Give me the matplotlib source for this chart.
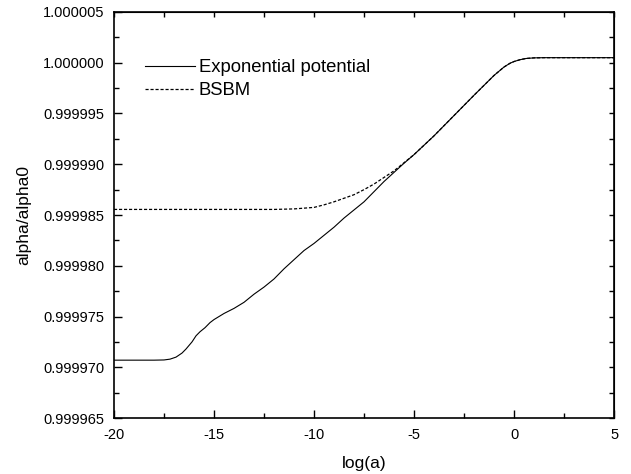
import numpy as np
import matplotlib
matplotlib.use("Agg")
import matplotlib.pyplot as plt
from matplotlib.ticker import MultipleLocator, FormatStrFormatter

plt.rcParams['font.family'] = ['Liberation Sans', 'DejaVu Sans']

# log(a) and (alpha/alpha0 - 1) in units of 1e-6
exp_x = [-20, -18, -17.5, -17.2, -16.9, -16.6, -16.4, -16.1, -15.9, -15.7,
         -15.45, -15.2, -15.0, -14.5, -14.0, -13.5, -13.0, -12.5, -12.0, -11.5,
         -11.0, -10.5, -10.0, -9.5, -9.0, -8.5, -8.0, -7.5, -7.0, -6.5,
         -6.0, -5.5, -5.0, -4.0, -3.0, -2.0, -1.0, -0.5, -0.2, 0.0,
         0.3, 0.6, 1.0, 1.5, 5.0]
exp_off = [-29.3, -29.3, -29.28, -29.2, -29.0, -28.6, -28.2, -27.5, -26.9, -26.5,
           -26.1, -25.6, -25.3, -24.7, -24.2, -23.6, -22.8, -22.1, -21.3, -20.3,
           -19.4, -18.5, -17.8, -17.0, -16.2, -15.3, -14.5, -13.7, -12.7, -11.7,
           -10.8, -9.9, -9.05, -7.2, -5.2, -3.2, -1.25, -0.42, -0.05, 0.12,
           0.3, 0.42, 0.48, 0.5, 0.5]

bsbm_x = [-20, -12, -11, -10, -9.5, -9.0, -8.5, -8.0, -7.5, -7.0,
          -6.5, -6.0, -5.5, -5.0, -4.0, -3.0, -2.0, -1.0, -0.5, -0.2,
          0.0, 0.3, 0.6, 1.0, 1.5, 5.0]
bsbm_off = [-14.45, -14.45, -14.4, -14.25, -14.0, -13.7, -13.35, -13.0, -12.5, -11.95,
            -11.3, -10.65, -9.85, -9.05, -7.2, -5.2, -3.2, -1.25, -0.42, -0.05,
            0.12, 0.3, 0.42, 0.48, 0.5, 0.5]

exp_y = 1 + np.array(exp_off) * 1e-6
bsbm_y = 1 + np.array(bsbm_off) * 1e-6

fig = plt.figure(figsize=(6.31, 4.74), dpi=100)
ax = fig.add_axes([0.1807, 0.1181, 0.7924, 0.8566])

ax.plot(exp_x, exp_y, color="black", lw=0.8, label="Exponential potential")
ax.plot(bsbm_x, bsbm_y, color="black", lw=0.9, dashes=(2.5, 1.5), label="BSBM")

ax.set_xlim(-20, 5)
ax.set_ylim(0.999965, 1.000005)
ax.xaxis.set_major_locator(MultipleLocator(5))
ax.xaxis.set_minor_locator(MultipleLocator(2.5))
ax.yaxis.set_major_locator(MultipleLocator(5e-6))
ax.yaxis.set_minor_locator(MultipleLocator(2.5e-6))
ax.yaxis.set_major_formatter(FormatStrFormatter("%.6f"))
ax.xaxis.set_major_formatter(FormatStrFormatter("%d"))

ax.tick_params(which="major", direction="in", length=6, width=1, labelsize=10.5, pad=7)
ax.tick_params(which="minor", direction="in", length=3.5, width=1)
for s in ax.spines.values():
    s.set_linewidth(1.2)

# mirror ticks on top and right, all short
top = ax.secondary_xaxis("top")
top.xaxis.set_major_locator(MultipleLocator(2.5))
top.tick_params(direction="in", length=3.5, width=1, labeltop=False)
right = ax.secondary_yaxis("right")
right.yaxis.set_major_locator(MultipleLocator(2.5e-6))
right.tick_params(direction="in", length=3.5, width=1, labelright=False)

ax.set_xlabel("log(a)", fontsize=12.5, labelpad=10)
ax.set_ylabel("alpha/alpha0", fontsize=12.5, labelpad=8)

ax.legend(loc="upper left", bbox_to_anchor=(0.062, 0.883), frameon=False,
          fontsize=13.3, handlelength=2.7, handletextpad=0.2, labelspacing=0.3,
          borderaxespad=0, borderpad=0)

fig.savefig("out.png", dpi=100)
